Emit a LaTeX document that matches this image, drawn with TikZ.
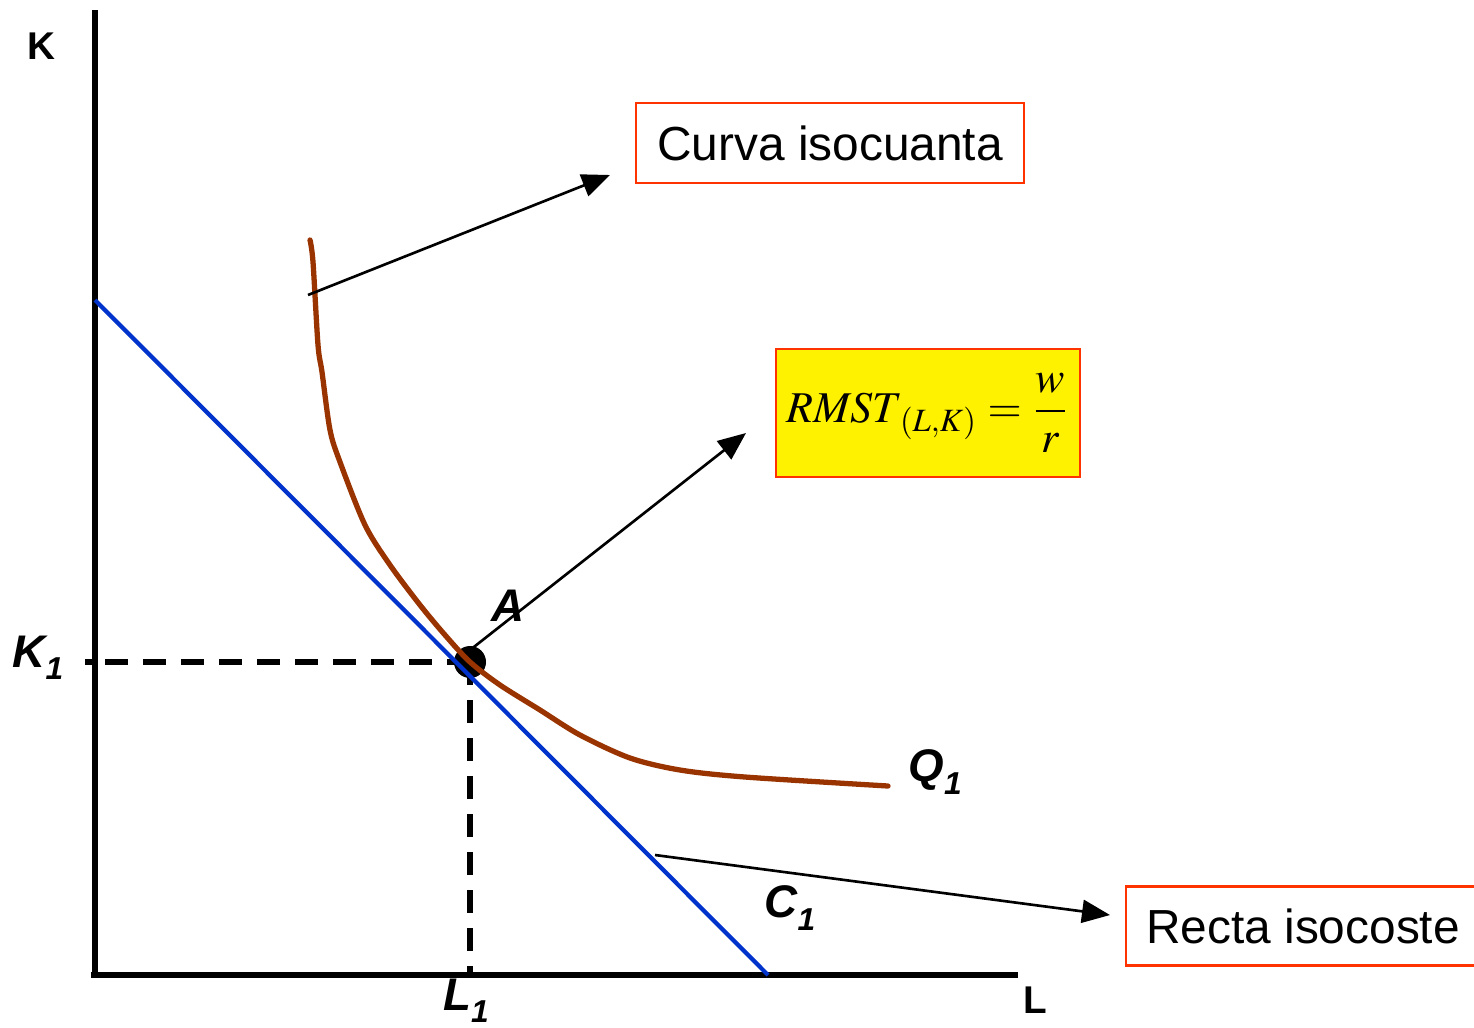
\documentclass[tikz,border=0pt]{standalone}
\usepackage{mathptmx}
\usepackage{fontspec}
\setmainfont{Liberation Sans}
\usepackage{tikz}
\usetikzlibrary{arrows.meta,positioning}
\definecolor{isoblue}{RGB}{0,51,204}
\definecolor{isobrown}{RGB}{153,51,0}
\definecolor{boxred}{RGB}{255,51,0}

\begin{document}
\begin{tikzpicture}[x=0.01cm,y=-0.01cm,>={Triangle[length=2.8mm,width=2.3mm]},
      axis/.style={line width=1.5pt},
      guide/.style={line width=1.7pt,dash pattern=on 0.23cm off 0.15cm},
      lbl/.style={font=\fontsize{13}{15}\selectfont\bfseries\itshape,inner sep=0pt},
      axlbl/.style={font=\fontsize{11}{13}\selectfont\bfseries,inner sep=0pt},
      callout/.style={draw=boxred,line width=0.7pt,fill=white,inner sep=0pt,
        font=\fontsize{13.6}{16}\selectfont},
      pointer/.style={->,line width=0.75pt}]
    \useasboundingbox (0,0) rectangle (1474,1027);
    % axes
    \coordinate (O) at (95,975);
    \coordinate (ktop) at (95,10);
    \coordinate (lend) at (1018,975);
    \draw[axis] (ktop) -- (O) -- (lend);
    \draw[axis] (O) -- ++(-4,0);
    \node[axlbl] (K) at (41,46) {K};
    \node[axlbl] (L) at (1035,1000) {L};
    % optimum
    \coordinate (A) at (470,662);
    \coordinate (k1) at (95,662);
    \coordinate (l1) at (470,975);
    \fill (A) circle (16);
    \draw[guide] (A) -- (k1);
    \draw[guide] (A) -- (l1);
    \draw[line width=1.7pt] (k1) -- ++(-10,0);
    \node[lbl] (K1) at (38,658) {K\raisebox{-0.5ex}{\fontsize{9}{10}\selectfont 1}};
    \node[lbl] (L1) at (466,1001) {L\raisebox{-0.5ex}{\fontsize{9}{10}\selectfont 1}};
    \node[lbl] (Alab) at (508,606) {A};
    % isocost line
    \coordinate (c0) at (95,300);
    \coordinate (c1) at (768,975);
    \draw[isoblue,line width=1.2pt] (c0) -- (c1);
    % isoquant
    \draw[isobrown,line width=1.5pt,line cap=round] plot[smooth,tension=0.5] coordinates {
      (310,240) (313,262) (318,345) (322,372) (330,430) (340,462) (365,525)
      (390,565) (420,605) (445,635) (470,662) (500,685) (540,710) (580,735)
      (630,758) (680,770) (745,777) (888,786)};
    \node[lbl] (Q1) at (935,772) {Q\raisebox{-0.5ex}{\fontsize{9}{10}\selectfont 1}};
    \node[lbl] (C1) at (790,908) {C\raisebox{-0.5ex}{\fontsize{9}{10}\selectfont 1}};
    % callouts
    \node[callout,minimum width=3.88cm,minimum height=0.8cm] (isoq) at (830,143) {Curva isocuanta};
    \node[callout,fill=yellow,minimum width=3.04cm,minimum height=1.28cm] (rmst) at (928,413)
      {\fontsize{12.5}{15}\selectfont$\displaystyle\mathit{RMST}_{(L,K)}=\frac{w}{r}$};
    \node[callout,anchor=west,minimum height=0.79cm,inner xsep=0.2cm] (isoc) at (1125,926) {Recta isocoste};
    \coordinate (q0) at (308,295);
    \coordinate (q1) at (610,175);
    \coordinate (r0) at (470,650);
    \coordinate (r1) at (746,433);
    \coordinate (s0) at (655,855);
    \coordinate (s1) at (1110,915);
    \draw[pointer] (q0) -- (q1);
    \draw[pointer] (r0) -- (r1);
    \draw[pointer] (s0) -- (s1);
  \end{tikzpicture}
\end{document}
